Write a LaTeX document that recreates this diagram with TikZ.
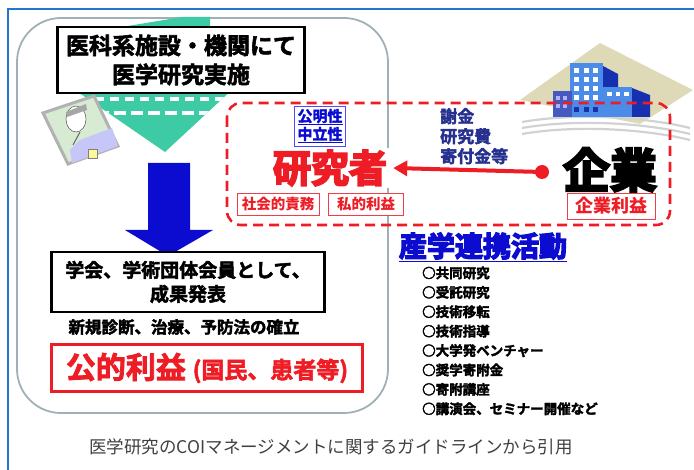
\documentclass[tikz,border=0pt]{standalone}
\usepackage{fontspec}
\setmainfont{Noto Sans CJK JP}
\newfontfamily\heavyjp{Noto Sans CJK JP Bold}[FakeBold=5]
\newfontfamily\thickjp{Noto Sans CJK JP Bold}[FakeBold=2.5]
\usetikzlibrary{arrows.meta,positioning}
\definecolor{frameblue}{HTML}{2178C8}
\definecolor{panelgray}{HTML}{9FB0B6}
\definecolor{coired}{HTML}{EE1C25}
\definecolor{deepblue}{HTML}{0C0CD0}
\definecolor{navyink}{HTML}{25308F}
\definecolor{tealarr}{HTML}{3DCBA6}
\definecolor{bldfront}{HTML}{4A8CE8}
\definecolor{bldside}{HTML}{1630B0}
\definecolor{sandbeige}{HTML}{DEDAB8}
\definecolor{cardgreen}{HTML}{D6EBD2}

\begin{document}
\begin{tikzpicture}[x=1pt,y=-1pt,
  box/.style={draw=black,line width=2.4pt,fill=white,align=center,inner sep=2pt},
  tagbox/.style={draw=coired!85,line width=0.8pt,fill=white,text=coired,font=\bfseries\fontsize{14.5}{16}\selectfont,inner sep=2pt},
  item/.style={anchor=west,font=\thickjp\fontsize{13.5}{15}\selectfont,inner sep=0pt}]
  \useasboundingbox (0,0) rectangle (694,470);
  % outer frame and left panel
  \draw[frameblue,line width=2pt] (694,9) -- (8,9) -- (8,470);
  \draw[panelgray,line width=1.8pt,rounded corners=44pt] (17,18) rectangle (388,413);
  % teal arrow behind the title
  \fill[tealarr] (92,32) -- (182,17) -- (210,17) -- (210,88) -- (234,88) -- (165,152) -- (72,88) -- (92,88) -- cycle;
  \begin{scope}
    \clip (92,32) -- (182,17) -- (210,17) -- (210,88) -- (234,88) -- (165,152) -- (72,88) -- (92,88) -- cycle;
    \draw[white,line width=3.5pt,dash pattern=on 9pt off 6pt] (80,99) -- (230,99);
    \draw[white,line width=3.5pt,dash pattern=on 12pt off 5pt] (80,113) -- (230,113);
  \end{scope}
  \node[box,minimum width=247pt,minimum height=66pt,font=\thickjp\fontsize{23}{29}\selectfont] (site) at (181,60) {医科系施設・機関にて\\医学研究実施};
  % doctor card
  \filldraw[draw=gray!60,line width=3pt,fill=cardgreen] (43,113) -- (94,96) -- (118,146) -- (68,164) -- cycle;
  \fill[gray!20!blue!25] (80,140) -- (112,128) -- (118,146) -- (72,163) -- (70,150) -- cycle;
  \filldraw[draw=gray!80!black,fill=white,line width=0.6pt] (76,119) ellipse (10 and 13);
  \fill[gray!70] (66,112) -- (86,104) -- (87,110) -- (67,117) -- cycle;
  \draw[gray!80!black,line width=1pt] (80,132) -- (73,145);
  \filldraw[draw=gray,fill=yellow!40] (88,149) rectangle (97,158);
  % result arrow
  \fill[deepblue] (148,163) -- (190,163) -- (190,230) -- (213,230) -- (168,256) -- (125,230) -- (148,230) -- cycle;
  \node[box,minimum width=273pt,minimum height=60pt,font=\thickjp\fontsize{19}{24}\selectfont] (present) at (188,282) {学会、学術団体会員として、\\成果発表};
  \node[font=\thickjp\fontsize{16.5}{18}\selectfont,inner sep=0pt] (cure) at (184,327) {新規診断、治療、予防法の確立};
  \node[draw=coired,line width=2.4pt,text=coired,minimum width=311pt,minimum height=47pt,inner sep=0pt] (public) at (207,368) {\thickjp\fontsize{30}{32}\selectfont 公的利益 \fontsize{23}{26}\selectfont (国民、患者等)};
  % company buildings
  \fill[sandbeige] (520,100) -- (600,43) -- (693,90) -- (640,124) -- cycle;
  \foreach \k in {0,1,2} \draw[gray!35,line width=2.2pt] (522,{122+6*\k}) .. controls (580,{112+6*\k}) and (650,{118+6*\k}) .. (690,{128+6*\k});
  \fill[bldside] (603,66) -- (618,74) -- (618,117) -- (603,117) -- cycle;
  \fill[bldfront] (570,63) rectangle (603,117);
  \fill[bldside] (632,88) -- (650,95) -- (650,117) -- (632,117) -- cycle;
  \fill[bldfront] (603,87) rectangle (632,117);
  \fill[bldside!80] (553,91) rectangle (572,117);
  \foreach \c in {0,1,2} \foreach \r in {0,1,2,3} \fill[white] ({574+9.5*\c},{68+9*\r}) rectangle ++(5,5);
  \foreach \c in {0,1,2} \fill[white] ({607+8.5*\c},92) rectangle ++(4.5,4.5);
  \foreach \c in {0,1} \foreach \r in {0,1} \fill[white!70!blue] ({556+7*\c},{96+8*\r}) rectangle ++(4,4);
  \foreach \c in {0,1,2} \fill[bldside] ({574+9.5*\c},107) rectangle ++(5,5);
  % conflict of interest zone
  \draw[coired,line width=2.6pt,dash pattern=on 10pt off 6pt,rounded corners=14pt] (227,103) rectangle (670,225);
  \node[draw=blue!70,line width=0.8pt,text=deepblue,align=center,font=\thickjp\fontsize{15}{18}\selectfont,inner sep=3pt,fill=white] (fair) at (320,126) {\underline{公明性}\\\underline{中立性}};
  \node[text=coired,fill=white,font=\heavyjp\fontsize{38}{40}\selectfont,inner xsep=6pt,inner ysep=2pt] (res) at (330,168) {研究者};
  \node[tagbox,minimum width=82pt,minimum height=22pt] (duty) at (278,204) {社会的責務};
  \node[tagbox,minimum width=75pt,minimum height=22pt] (gain) at (366,204) {私的利益};
  \node[font=\heavyjp\fontsize{47}{50}\selectfont,inner sep=0pt] (corp) at (610,170) {企業};
  \node[tagbox,minimum width=88pt,minimum height=26pt,font=\bfseries\fontsize{18}{20}\selectfont] (corpgain) at (611,206) {企業利益};
  \node[anchor=north west,align=left,text=navyink,font=\thickjp\fontsize{17}{20}\selectfont,inner sep=0pt] (money) at (440,108) {謝金\\研究費\\寄付金等};
  \coordinate (dot) at (542,172);
  \fill[coired] (dot) circle (7);
  \draw[coired,line width=4pt,-{Triangle[length=14pt,width=15pt]}] (dot) -- (res.east);
  % collaboration list
  \node[text=deepblue,font=\heavyjp\fontsize{28}{30}\selectfont,inner sep=0pt] (collab) at (483,247) {\underline{産学連携活動}};
  \foreach \txt [count=\i from 0] in {共同研究,受託研究,技術移転,技術指導,大学発ベンチャー,奨学寄附金,寄附講座,講演会、セミナー開催など}
    \node[item] (act\i) at (422,{273+19.4*\i}) {○\txt};
  \node[text=black!75,font=\fontsize{17.5}{20}\selectfont,inner sep=0pt] (source) at (331,447) {医学研究のCOIマネージメントに関するガイドラインから引用};
\end{tikzpicture}
\end{document}
